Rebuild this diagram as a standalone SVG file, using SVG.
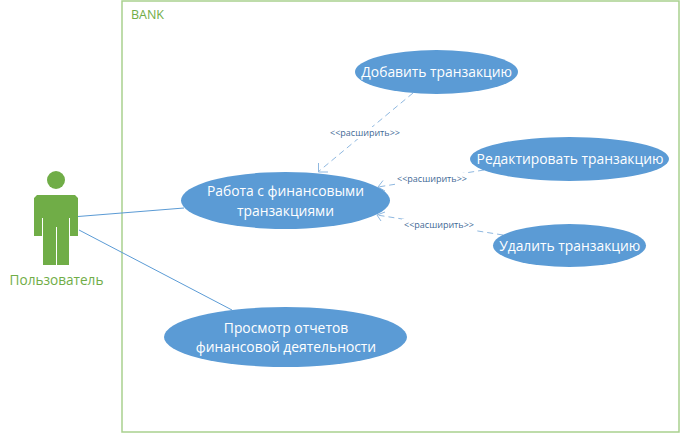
<svg xmlns="http://www.w3.org/2000/svg" width="682" height="433" viewBox="0 0 682 433">
<style>
text{font-family:"Open Sans","Noto Sans",sans-serif;text-anchor:middle}
.uc{fill:#5b9bd5}
.ut{fill:#fff;font-size:13.85px}
.g{fill:#70ad47}
.as{stroke:#5b9bd5;stroke-width:1;fill:none}
.ex{stroke:#8fb8e0;stroke-width:1;fill:none;stroke-dasharray:6 4}
.ah{stroke:#8fb8e0;stroke-width:1;fill:none}
.lb{fill:#3f6a96;font-size:9px}
</style>
<rect width="682" height="433" fill="#fff"/>
<g id="system">
<rect x="122" y="1" width="557" height="431" fill="none" stroke="#a9d18e" stroke-width="1.5"/>
<text x="147.500" y="19" style="fill:#70ad47;font-size:12.500px">BANK</text>
</g>
<g id="connectors">
<path class="as" d="M78 216.500L184 208"/>
<path class="as" d="M79 230L232 310"/>
<path class="ex" d="M413 93L318 172"/>
<path class="ah" d="M318.500 163V172H328"/>
<path class="ex" d="M484 170L378 187"/>
<path class="ah" d="M383 180.500L378 187L385 191"/>
<path class="ex" d="M503 235L377 215"/>
<path class="ah" d="M385 212L377 215L381 221"/>
</g>
<g id="actor">
<circle class="g" cx="56" cy="180" r="9"/>
<path class="g" d="M37 195H75L78 198V236H70V218H69V265H57V227H56V265H43V218H42V236H34V198Z"/>
<text x="56.500" y="285" style="fill:#70ad47;font-size:13.600px">Пользователь</text>
</g>
<g id="uc-main">
<ellipse class="uc" cx="285.500" cy="200.500" rx="104.500" ry="28.500"/>
<text class="ut" x="285.500" y="196">Работа с финансовыми</text>
<text class="ut" x="285.500" y="215.500">транзакциями</text>
</g>
<g id="uc-add">
<ellipse class="uc" cx="436.500" cy="72" rx="81.500" ry="22"/>
<text class="ut" x="436.700" y="77">Добавить транзакцию</text>
</g>
<g id="uc-edit">
<ellipse class="uc" cx="569.500" cy="159" rx="99.500" ry="22"/>
<text class="ut" x="570" y="164">Редактировать транзакцию</text>
</g>
<g id="uc-del">
<ellipse class="uc" cx="569.500" cy="245.500" rx="76.500" ry="21.500"/>
<text class="ut" x="569.700" y="250.500">Удалить транзакцию</text>
</g>
<g id="uc-report">
<ellipse class="uc" cx="285.500" cy="337" rx="121.500" ry="30"/>
<text class="ut" x="286" y="332.500">Просмотр отчетов</text>
<text class="ut" x="286" y="352">финансовой деятельности</text>
</g>
<g id="labels">
<rect x="328" y="127" width="74" height="12" fill="#fff"/>
<text class="lb" x="365" y="136">&lt;&lt;расширить&gt;&gt;</text>
<rect x="395" y="173" width="74" height="12" fill="#fff"/>
<text class="lb" x="432" y="182">&lt;&lt;расширить&gt;&gt;</text>
<rect x="402" y="219" width="74" height="12" fill="#fff"/>
<text class="lb" x="439" y="228">&lt;&lt;расширить&gt;&gt;</text>
</g>
</svg>
